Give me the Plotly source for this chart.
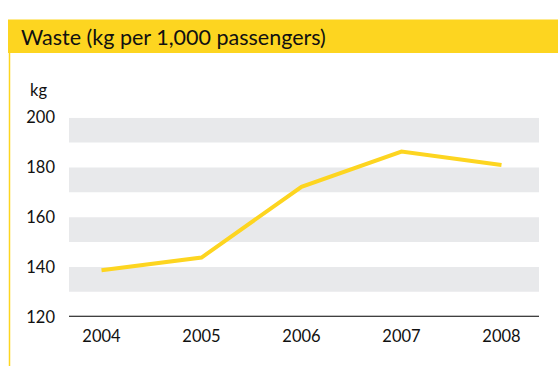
import plotly.graph_objects as go

years = ["2004", "2005", "2006", "2007", "2008"]
waste_kg = [138.7, 143.8, 172.2, 186.4, 181.0]
y_ticks = [120, 140, 160, 180, 200]
bands = [(130, 140), (150, 160), (170, 180), (190, 200)]

W, H = 558, 376
YELLOW = "#FDD520"
GREY = "#E8E9EB"
FONT = "Lato"

def px(x):
    return x / W

def py(y):
    return 1 - y / H

fig = go.Figure()
fig.add_trace(go.Scatter(
    x=years, y=waste_kg, mode="lines",
    line=dict(color=YELLOW, width=4),
    hoverinfo="skip", showlegend=False,
))

shapes = []
for lo, hi in bands:
    shapes.append(dict(type="rect", xref="x domain", yref="y", x0=0, x1=1, y0=lo, y1=hi,
                       fillcolor=GREY, line=dict(width=0), layer="below"))
# title bar
shapes.append(dict(type="rect", xref="paper", yref="paper", x0=px(8), x1=1.0,
                   y0=py(45.5), y1=py(10), fillcolor=YELLOW, line=dict(width=0), layer="below"))
# left rule
shapes.append(dict(type="line", xref="paper", yref="paper", x0=px(9.5), x1=px(9.5),
                   y0=py(45), y1=0, line=dict(color=YELLOW, width=1.5), layer="below"))

fig.update_layout(
    width=W, height=H, autosize=False,
    margin=dict(l=0, r=0, t=0, b=0, pad=0),
    paper_bgcolor="white", plot_bgcolor="white",
    font=dict(family=FONT, color="#111111"),
    shapes=shapes,
    annotations=[
        dict(text="Waste (kg per 1,000 passengers)", xref="paper", yref="paper",
             x=px(19), y=py(28), xanchor="left", yanchor="middle", showarrow=False,
             font=dict(size=21.5, color="#111111", family=FONT)),
        dict(text="kg", xref="paper", yref="paper",
             x=px(27.5), y=py(84), xanchor="left", yanchor="middle", showarrow=False,
             font=dict(size=16.5, color="#111111", family=FONT)),
    ],
    xaxis=dict(
        domain=[px(69), px(539)],
        range=[-0.325, 4.375],
        showgrid=False, zeroline=False,
        showline=False,
        ticks="", tickfont=dict(size=16.5, color="#111111"),
        ticklabelstandoff=8,
        fixedrange=True,
    ),
    yaxis=dict(
        domain=[py(324), py(113.7)],
        range=[120, 200],
        tickvals=y_ticks,
        showgrid=False, zeroline=False, showline=False,
        ticks="", tickfont=dict(size=16.5, color="#111111"),
        ticklabelstandoff=13,
        fixedrange=True,
    ),
)
# baseline at 120
fig.add_shape(type="line", xref="x domain", yref="y", x0=0, x1=1, y0=120, y1=120,
              line=dict(color="#000000", width=2.2), layer="above")

post = ("document.body.style.margin='0';document.body.style.padding='0';"
        "document.documentElement.style.overflow='hidden';")
fig.write_html("out.html", config={"responsive": False, "displayModeBar": False},
               post_script=post)
